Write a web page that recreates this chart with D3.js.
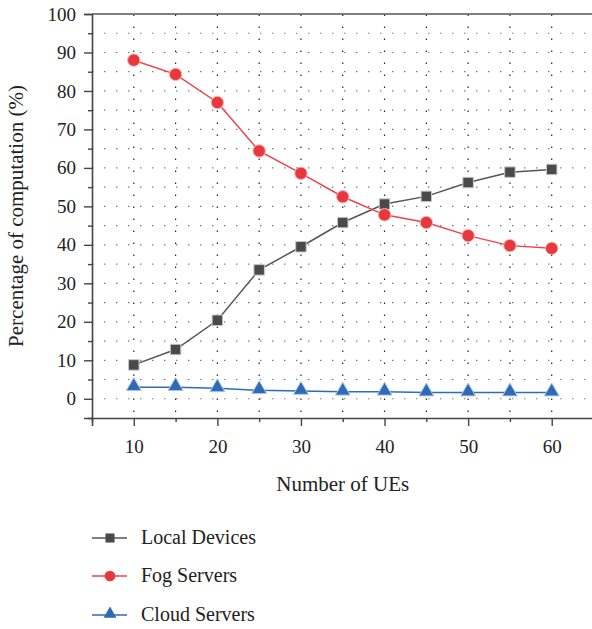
<!DOCTYPE html>
<html>
<head>
<meta charset="utf-8">
<script src="https://cdn.jsdelivr.net/npm/d3@7"></script>
<style>
  body { margin: 0; background: #fff; }
  svg { display: block; font-family: "Liberation Serif", "DejaVu Serif", serif; }
  .axis path, .axis line { stroke: #444; }
  .axis text { fill: #222; font-size: 19px; font-family: "Liberation Serif", serif; }
</style>
</head>
<body>
<div id="chart"></div>
<script>
// data
var ues = [10, 15, 20, 25, 30, 35, 40, 45, 50, 55, 60];
var localDevices = [8.8, 12.8, 20.4, 33.5, 39.5, 45.8, 50.6, 52.6, 56.2, 58.9, 59.6];
var fogServers = [88.0, 84.3, 77.0, 64.4, 58.6, 52.5, 47.8, 45.8, 42.4, 39.8, 39.1];
var cloudServers = [3.0, 3.0, 2.7, 2.2, 2.0, 1.8, 1.8, 1.6, 1.6, 1.6, 1.6];
var seriesNames = ["Local Devices", "Fog Servers", "Cloud Servers"];
var xTicks = [10, 20, 30, 40, 50, 60];
var yTicks = [0, 10, 20, 30, 40, 50, 60, 70, 80, 90, 100];

var W = 592, H = 629;
var margin = {top: 14, left: 92};
var plotW = 501.5, plotH = 404;

var svg = d3.select("#chart").append("svg")
  .attr("width", W).attr("height", H);
var g = svg.append("g")
  .attr("transform", "translate(" + margin.left + "," + margin.top + ")");

var x = d3.scaleLinear().domain([5, 65]).range([0, plotW]);
var y = d3.scaleLinear().domain([-5, 100]).range([plotH, 0]);

/* dotted grid every 5 units */
var gridX = d3.range(10, 61, 5);
var gridY = d3.range(0, 100, 5);
g.append("g").selectAll("line.gy")
  .data(gridY).enter().append("line")
  .attr("x1", 0).attr("x2", plotW)
  .attr("y1", function(d) { return y(d); })
  .attr("y2", function(d) { return y(d); })
  .attr("stroke", "#777").attr("stroke-width", 1.2)
  .attr("stroke-dasharray", "1.4,10.6");
g.append("g").selectAll("line.gx")
  .data(gridX).enter().append("line")
  .attr("x1", function(d) { return x(d); })
  .attr("x2", function(d) { return x(d); })
  .attr("y1", plotH).attr("y2", 0)
  .attr("stroke", "#222").attr("stroke-width", 1.2)
  .attr("stroke-dasharray", "1.4,10.6")
  .attr("stroke-dashoffset", 6);

/* axes */
g.append("g").attr("class", "axis")
  .attr("transform", "translate(0," + plotH + ")")
  .call(d3.axisBottom(x).tickValues(d3.range(5, 61, 10)).tickSize(4).tickFormat(""))
  .call(function(s) { s.select(".domain").remove(); s.selectAll("line").attr("stroke-width", 1.4); });
g.append("g").attr("class", "axis")
  .attr("transform", "translate(0," + plotH + ")")
  .call(d3.axisBottom(x).tickValues(xTicks).tickSize(8).tickPadding(14))
  .call(function(s) {
    s.select(".domain").attr("stroke-width", 1.6);
    s.selectAll("line").attr("stroke-width", 1.4);
  });
g.append("g").attr("class", "axis")
  .call(d3.axisLeft(y).tickValues(d3.range(-5, 100, 10)).tickSize(4).tickFormat(""))
  .call(function(s) { s.select(".domain").remove(); s.selectAll("line").attr("stroke-width", 1.4); });
g.append("g").attr("class", "axis")
  .call(d3.axisLeft(y).tickValues(yTicks).tickSize(8).tickPadding(8))
  .call(function(s) {
    s.select(".domain").attr("stroke-width", 1.6);
    s.selectAll("line").attr("stroke-width", 1.4);
  });
// top border
g.append("line").attr("x1", 0).attr("x2", plotW).attr("y1", 0).attr("y2", 0)
  .attr("stroke", "#555").attr("stroke-width", 1.6);

/* axis titles */
svg.append("text")
  .attr("x", margin.left + plotW / 2).attr("y", 491)
  .attr("text-anchor", "middle").attr("font-size", 21).attr("fill", "#222")
  .text("Number of UEs");
svg.append("text")
  .attr("transform", "translate(23," + (margin.top + y(47.5)) + ") rotate(-90)")
  .attr("text-anchor", "middle").attr("font-size", 21).attr("fill", "#222")
  .text("Percentage of computation (%)");

/* series */
var series = [
  {name: seriesNames[0], values: localDevices, line: "#555", fill: "#4a4a4a", stroke: "#c8c8c8", shape: d3.symbolSquare, size: 110},
  {name: seriesNames[1], values: fogServers, line: "#ee4449", fill: "#e8383d", stroke: "#f6b0b2", shape: d3.symbolCircle, size: 120},
  {name: seriesNames[2], values: cloudServers, line: "#2f6db5", fill: "#2e6ab5", stroke: "#a9c4e6", shape: d3.symbolTriangle, size: 95}
];

var line = d3.line()
  .x(function(d, i) { return x(ues[i]); })
  .y(function(d) { return y(d); });

series.forEach(function(s) {
  g.append("path")
    .datum(s.values)
    .attr("fill", "none")
    .attr("stroke", s.line)
    .attr("stroke-width", 1.5)
    .attr("d", line);
  g.append("g").selectAll("path")
    .data(s.values).enter().append("path")
    .attr("d", d3.symbol().type(s.shape).size(s.size))
    .attr("transform", function(d, i) {
      var dy = s.shape === d3.symbolTriangle ? -1 : 0;
      return "translate(" + x(ues[i]) + "," + (y(d) + dy) + ")";
    })
    .attr("fill", s.fill)
    .attr("stroke", s.stroke)
    .attr("stroke-width", 1);
});

/* legend */
var legY = [538, 576, 615];
var leg = svg.append("g");
series.forEach(function(s, i) {
  var row = leg.append("g").attr("transform", "translate(92," + legY[i] + ")");
  row.append("line").attr("x1", 0).attr("x2", 35).attr("y1", 0).attr("y2", 0)
    .attr("stroke", s.line).attr("stroke-width", 1.3);
  row.append("path")
    .attr("d", d3.symbol().type(s.shape).size(s.size * 0.75))
    .attr("transform", "translate(18," + (s.shape === d3.symbolTriangle ? -1 : 0) + ")")
    .attr("fill", s.fill);
  row.append("text")
    .attr("x", 49).attr("y", 6)
    .attr("font-size", 20).attr("fill", "#222")
    .text(s.name);
});
</script>
</body>
</html>
